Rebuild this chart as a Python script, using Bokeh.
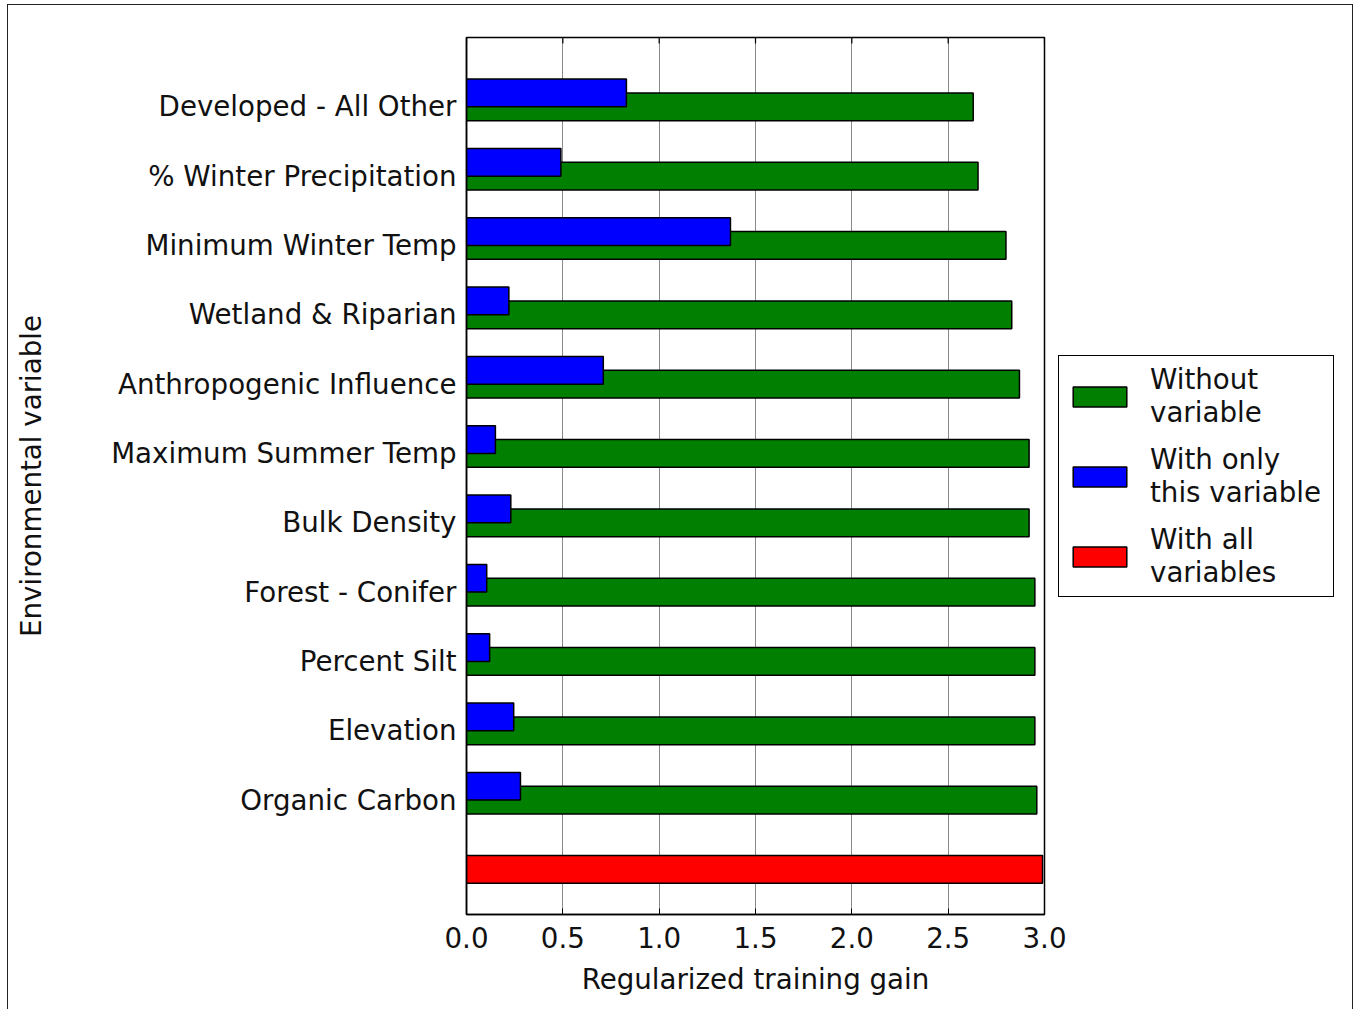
import math
from bokeh.plotting import figure
from bokeh.layouts import row
from bokeh.models import (Range1d, FixedTicker, PrintfTickFormatter, Legend, LegendItem,
                          ColumnDataSource)
from bokeh.embed import file_html
from bokeh.resources import INLINE

# ---- data ----
variables = ["Organic Carbon", "Elevation", "Percent Silt", "Forest - Conifer",
             "Bulk Density", "Maximum Summer Temp", "Anthropogenic Influence",
             "Wetland & Riparian", "Minimum Winter Temp", "% Winter Precipitation",
             "Developed - All Other"]
without_variable = [2.96, 2.95, 2.95, 2.95, 2.92, 2.92, 2.87, 2.83, 2.80, 2.655, 2.63]
only_variable = [0.28, 0.245, 0.12, 0.105, 0.23, 0.15, 0.71, 0.22, 1.37, 0.49, 0.83]
all_variables = 2.99
x_ticks = [0.0, 0.5, 1.0, 1.5, 2.0, 2.5, 3.0]
legend_labels = ["Without\nvariable", "With only\nthis variable", "With all\nvariables"]
colors = ["#007f00", "#0000ff", "#ff0000"]

FONT = "DejaVu Sans"
FS = "27.7px"
Y_MIN, Y_MAX = -0.65, 12

pos = list(range(1, len(variables) + 1))
src_green = ColumnDataSource(dict(y=pos, right=without_variable))
src_blue = ColumnDataSource(dict(y=[p_ + 0.2 for p_ in pos], right=only_variable))
src_red = ColumnDataSource(dict(y=[0], right=[all_variables]))

p = figure(frame_width=578, frame_height=877, output_backend="svg", toolbar_location=None,
           x_range=Range1d(0, 3), y_range=Range1d(Y_MIN, Y_MAX),
           min_border_left=458, min_border_right=30, min_border_top=32,
           min_border_bottom=95)

for src, col in zip([src_green, src_blue, src_red], colors):
    p.hbar(y="y", right="right", left=0, height=0.4, source=src,
           fill_color=col, line_color="black", line_width=1.5)

# inward tick marks along the top edge (half of each dash is clipped by the frame)
p.scatter(x=x_ticks, y=[Y_MAX] * len(x_ticks), marker="dash", angle=math.pi / 2,
          size=12, line_color="black", line_width=1.2)

p.outline_line_color = "black"
p.outline_line_width = 1.5

# x axis
xa = p.xaxis[0]
xa.ticker = FixedTicker(ticks=x_ticks)
xa.formatter = PrintfTickFormatter(format="%.1f")
xa.axis_label = "Regularized training gain"
xa.major_tick_in = 6
xa.major_tick_out = 0
xa.minor_tick_in = 0
xa.minor_tick_out = 0
xa.major_label_standoff = 12
xa.axis_label_standoff = 12

# y axis
ya = p.yaxis[0]
ya.ticker = FixedTicker(ticks=pos)
ya.major_label_overrides = {p_: v for p_, v in zip(pos, variables)}
ya.axis_label = "Environmental variable"
ya.major_tick_in = 0
ya.major_tick_out = 0
ya.minor_tick_in = 0
ya.minor_tick_out = 0
ya.major_label_standoff = 10
ya.axis_label_standoff = 60

for ax in (xa, ya):
    ax.major_label_text_font = FONT
    ax.major_label_text_font_size = FS
    ax.major_label_text_color = "#111111"
    ax.axis_label_text_font = FONT
    ax.axis_label_text_font_size = FS
    ax.axis_label_text_font_style = "normal"
    ax.axis_label_text_color = "#111111"
    ax.axis_line_color = "black"
    ax.axis_line_width = 1.5

p.ygrid.visible = False
p.xgrid.ticker = FixedTicker(ticks=x_ticks)
p.xgrid.grid_line_color = "#8a8a8a"
p.xgrid.grid_line_width = 1

# ---- legend in a transparent side figure ----
lf = figure(width=298, height=1004, output_backend="svg", toolbar_location=None,
            x_axis_type=None, y_axis_type=None, x_range=Range1d(0, 1), y_range=Range1d(0, 1),
            min_border=0, min_border_left=0, min_border_right=0, min_border_top=0,
            min_border_bottom=0)
lf.outline_line_color = None
lf.background_fill_alpha = 0
lf.border_fill_alpha = 0
lf.xgrid.visible = False
lf.ygrid.visible = False
lf.styles = {"margin-left": "-20px"}

items = []
for lab, col in zip(legend_labels, colors):
    # zero-size proxy bar hidden under the legend box; only its legend swatch is shown
    r = lf.hbar(y=[0.5], right=[0.5], left=[0.5], height=0,
                fill_color=col, line_color="black", line_width=1.5)
    items.append(LegendItem(label=lab, renderers=[r]))

legend = Legend(items=items, location=(4, 317))
legend.label_text_font = FONT
legend.label_text_font_size = FS
legend.label_text_color = "#111111"
legend.glyph_width = 67
legend.glyph_height = 25
legend.label_standoff = 17
legend.label_width = 176
legend.padding = 7
legend.spacing = 14
legend.margin = 0
legend.border_line_color = "black"
legend.border_line_alpha = 1.0
legend.border_line_width = 1.5
legend.background_fill_alpha = 1.0
lf.add_layout(legend, "center")

layout = row(p, lf)
layout.styles = {"margin-left": "8px", "margin-top": "5px", "outline": "1px solid #222222"}

open("out.html", "w").write(file_html(layout, INLINE))
